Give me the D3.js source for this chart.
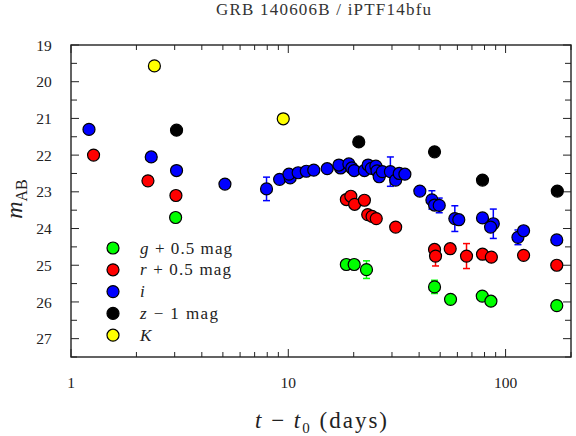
<!DOCTYPE html>
<html>
<head>
<meta charset="utf-8">
<script src="https://cdn.jsdelivr.net/npm/d3@7"></script>
<style>
  body { margin: 0; background: #fff; }
  text { font-family: "Liberation Serif", "DejaVu Serif", serif; fill: #222; }
</style>
</head>
<body>
<div id="chart"></div>
<script>
// photometry: [days since t0, magnitude, error (0 = none)]
const gBand = [
  [3.03, 23.70, 0], [18.5, 24.98, 0], [20.1, 24.98, 0], [22.9, 25.12, 0.24],
  [47.1, 25.59, 0.18], [55.8, 25.93, 0], [78.1, 25.84, 0], [85.6, 25.98, 0],
  [172, 26.10, 0]
];
const rBand = [
  [1.27, 22.00, 0], [2.26, 22.70, 0], [3.04, 23.10, 0], [18.5, 23.21, 0],
  [19.4, 23.12, 0], [20.2, 23.34, 0], [22.4, 23.23, 0.08], [23.2, 23.62, 0.08],
  [24.3, 23.67, 0], [25.4, 23.73, 0.08], [31.2, 23.96, 0], [47.1, 24.57, 0],
  [47.6, 24.75, 0.27], [55.6, 24.55, 0], [66.1, 24.75, 0.34], [78.3, 24.70, 0],
  [86.0, 24.78, 0], [121, 24.73, 0], [172, 25.00, 0]
];
const iBand = [
  [1.21, 21.30, 0], [2.34, 22.05, 0], [3.06, 22.42, 0], [5.11, 22.79, 0],
  [7.94, 22.92, 0.32], [9.12, 22.66, 0], [10.2, 22.62, 0], [10.07, 22.52, 0],
  [11.1, 22.48, 0], [12.1, 22.44, 0], [13.1, 22.41, 0], [15.1, 22.37, 0],
  [17.4, 22.35, 0], [17.1, 22.27, 0], [19.0, 22.24, 0], [19.6, 22.35, 0],
  [20.1, 22.42, 0], [22.4, 22.42, 0], [23.3, 22.27, 0.1], [24.1, 22.36, 0],
  [25.3, 22.30, 0], [25.6, 22.43, 0], [26.2, 22.59, 0], [27.1, 22.45, 0],
  [29.5, 22.45, 0.40], [31.2, 22.68, 0], [32.4, 22.50, 0.1], [34.4, 22.52, 0],
  [40.3, 22.98, 0], [45.8, 23.22, 0.25], [47.1, 23.36, 0], [49.5, 23.37, 0.2],
  [58.4, 23.73, 0.35], [60.9, 23.76, 0], [78.3, 23.71, 0], [87.8, 23.87, 0.40],
  [85.3, 23.96, 0], [114, 24.24, 0.2], [121, 24.06, 0], [172, 24.31, 0]
];
const zBand = [
  [3.06, 21.32, 0], [21.1, 21.64, 0], [47.1, 21.91, 0], [78.3, 22.68, 0],
  [173, 22.98, 0]
];
const kBand = [
  [2.42, 19.57, 0], [9.48, 21.01, 0]
];

const bandNames = ["g", "r", "i", "z", "K"];
const bandColors = ["#00ff00", "#ff0000", "#0000ff", "#000000", "#ffff00"];
const bandData = [gBand, rBand, iBand, zBand, kBand];
const legendLabels = [
  [["g", true], [" + 0.5 mag", false]],
  [["r", true], [" + 0.5 mag", false]],
  [["i", true]],
  [["z", true], [" \u2212 1 mag", false]],
  [["K", true]]
];
// widths the Computer Modern labels take in the original
const legendWidths = [92, 91, null, 78, null];

const yTicks = [19, 20, 21, 22, 23, 24, 25, 26, 27];
const xTickLabels = [1, 10, 100];

const width = 576, height = 436;
const margin = { top: 45, right: 5, bottom: 79, left: 71 };

const svg = d3.select("#chart").append("svg")
  .attr("width", width)
  .attr("height", height);

const x = d3.scaleLog()
  .domain([1, 200])
  .range([margin.left, width - margin.right]);

const y = d3.scaleLinear()
  .domain([19, 27.5])
  .range([margin.top, height - margin.bottom]);

const x0 = x.range()[0], x1 = x.range()[1];
const y0 = y.range()[0], y1 = y.range()[1];

// minor/major ticks, drawn inward on all four sides
const tickG = svg.append("g").attr("stroke", "#222").attr("stroke-width", 1);
const xMinor = [];
for (let dec = 1; dec <= 100; dec *= 10) {
  for (let k = 1; k <= 9; k++) {
    const v = dec * k;
    if (v <= 200) xMinor.push(v);
  }
}
xMinor.forEach(v => {
  const len = xTickLabels.includes(v) ? 8 : 5;
  tickG.append("line").attr("x1", x(v)).attr("x2", x(v)).attr("y1", y1).attr("y2", y1 - len);
  tickG.append("line").attr("x1", x(v)).attr("x2", x(v)).attr("y1", y0).attr("y2", y0 + len);
});
d3.range(19, 27.51, 0.5).forEach(v => {
  const len = Number.isInteger(v) ? 8 : 6;
  tickG.append("line").attr("x1", x0).attr("x2", x0 + len).attr("y1", y(v)).attr("y2", y(v));
  tickG.append("line").attr("x1", x1).attr("x2", x1 - len).attr("y1", y(v)).attr("y2", y(v));
});

svg.append("rect")
  .attr("x", x0).attr("y", y0)
  .attr("width", x1 - x0).attr("height", y1 - y0)
  .attr("fill", "none")
  .attr("stroke", "#222")
  .attr("stroke-width", 1.4);

// tick labels
svg.append("g").selectAll("text")
  .data(yTicks)
  .join("text")
  .attr("x", 44)
  .attr("y", d => y(d))
  .attr("dy", "0.36em")
  .attr("text-anchor", "middle")
  .style("font-size", "15.5px")
  .text(d => d);

svg.append("g").selectAll("text")
  .data(xTickLabels)
  .join("text")
  .attr("x", d => x(d))
  .attr("y", 388)
  .attr("text-anchor", "middle")
  .style("font-size", "15.5px")
  .text(d => d);

// title
svg.append("text")
  .attr("x", 216)
  .attr("y", 15)
  .attr("textLength", 215)
  .attr("lengthAdjust", "spacing")
  .style("font-size", "17px")
  .style("fill", "#333")
  .text("GRB 140606B / iPTF14bfu");

// x axis title
const xt = svg.append("text")
  .attr("x", 255)
  .attr("y", 428)
  .attr("textLength", 132)
  .attr("lengthAdjust", "spacing")
  .style("font-size", "23px");
xt.append("tspan").style("font-style", "italic").text("t");
xt.append("tspan").text(" \u2212 ");
xt.append("tspan").style("font-style", "italic").text("t");
xt.append("tspan").attr("dy", 5).style("font-size", "15px").text("0");
xt.append("tspan").attr("dy", -5).text(" (days)");

// y axis title (kept just inside the left edge)
const yt = svg.append("text")
  .attr("transform", `translate(22, ${(y0 + y1) / 2 - 2}) rotate(-90)`)
  .attr("text-anchor", "middle")
  .style("font-size", "24px");
yt.append("tspan").style("font-style", "italic").text("m");
yt.append("tspan").attr("dy", 5).style("font-size", "16px").text("AB");

// data
const plot = svg.append("g");
bandData.forEach((pts, b) => {
  const g = plot.append("g").attr("class", "band-" + bandNames[b]);
  const withErr = pts.filter(d => d[2] > 0);
  g.selectAll("line.err")
    .data(withErr)
    .join("line")
    .attr("class", "err")
    .attr("x1", d => x(d[0])).attr("x2", d => x(d[0]))
    .attr("y1", d => y(d[1] - d[2])).attr("y2", d => y(d[1] + d[2]))
    .attr("stroke", bandColors[b]).attr("stroke-width", 1.5);
  [-1, 1].forEach(s => {
    g.selectAll("line.cap" + (s > 0 ? "p" : "m"))
      .data(withErr)
      .join("line")
      .attr("class", "cap" + (s > 0 ? "p" : "m"))
      .attr("x1", d => x(d[0]) - 3.5).attr("x2", d => x(d[0]) + 3.5)
      .attr("y1", d => y(d[1] + s * d[2])).attr("y2", d => y(d[1] + s * d[2]))
      .attr("stroke", bandColors[b]).attr("stroke-width", 1.5);
  });
  g.selectAll("circle")
    .data(pts)
    .join("circle")
    .attr("cx", d => x(d[0]))
    .attr("cy", d => y(d[1]))
    .attr("r", 6)
    .attr("fill", bandColors[b])
    .attr("stroke", "#000")
    .attr("stroke-width", 1.2);
});

// legend
const legend = svg.append("g");
legendLabels.forEach((parts, b) => {
  const ly = 248 + b * 21.8;
  legend.append("circle")
    .attr("cx", 113).attr("cy", ly).attr("r", 6)
    .attr("fill", bandColors[b]).attr("stroke", "#000").attr("stroke-width", 1.2);
  const t = legend.append("text")
    .attr("x", 140).attr("y", ly).attr("dy", "0.33em")
    .style("font-size", "17px");
  if (legendWidths[b]) t.attr("textLength", legendWidths[b]).attr("lengthAdjust", "spacing");
  parts.forEach(([s, it]) => {
    t.append("tspan").style("font-style", it ? "italic" : "normal").text(s);
  });
});
</script>
</body>
</html>
